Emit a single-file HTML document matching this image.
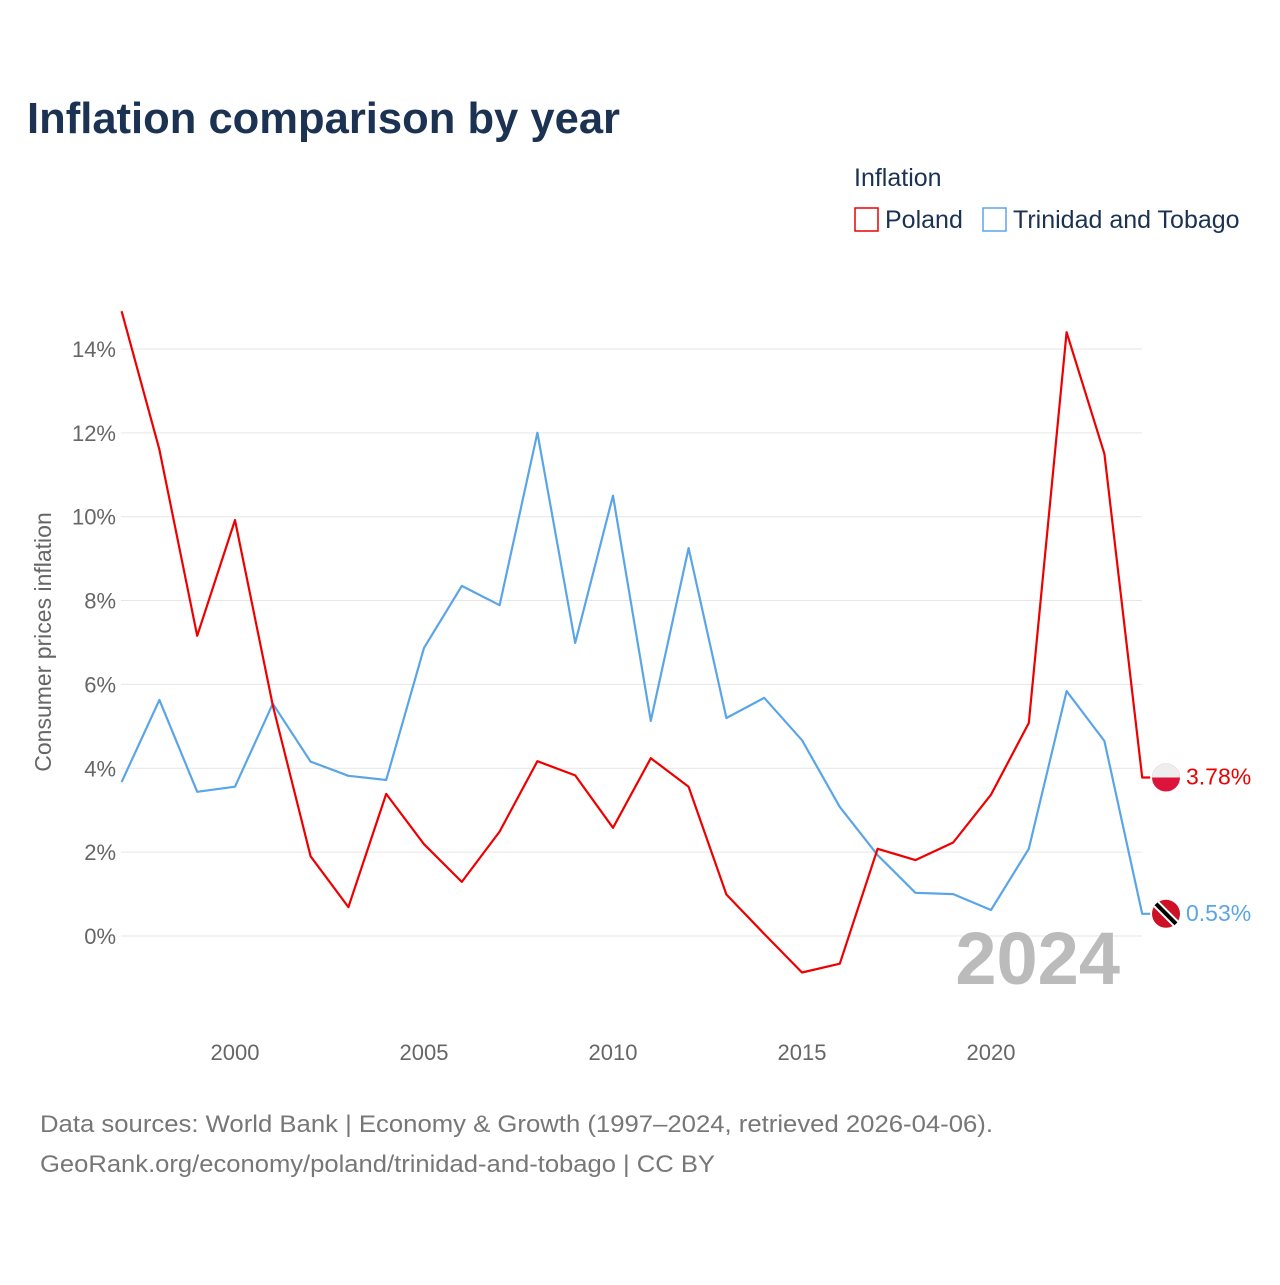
<!DOCTYPE html>
<html><head><meta charset="utf-8"><style>
body{margin:0;background:#fff;font-family:"Liberation Sans",sans-serif}
</style></head><body>
<svg width="1280" height="1280" xmlns="http://www.w3.org/2000/svg" style="font-family:'Liberation Sans',sans-serif">
<rect width="1280" height="1280" fill="#fff"/>
<text x="27" y="133" font-size="44" font-weight="bold" fill="#1b3252" textLength="593" lengthAdjust="spacingAndGlyphs">Inflation comparison by year</text>
<text x="854" y="186" font-size="25" fill="#1b3252">Inflation</text>
<g><rect x="855" y="208" width="23" height="23" fill="none" stroke="#ee0000" stroke-width="1.5"/><text x="885" y="228" font-size="25" fill="#1b3252">Poland</text></g>
<g><rect x="983" y="208" width="23" height="23" fill="none" stroke="#5aa5e8" stroke-width="1.5"/><text x="1013" y="228" font-size="25" fill="#1b3252">Trinidad and Tobago</text></g>
<g id="grid"></g>
<g id="yt"></g>
<g id="xt"></g>
<text transform="translate(51,642) rotate(-90)" text-anchor="middle" font-size="23" fill="#666">Consumer prices inflation</text>
<text x="1120" y="984" text-anchor="end" font-size="74" font-weight="bold" fill="#bbb">2024</text>
<g id="series"></g>
<text x="40" y="1132" font-size="24" fill="#777" textLength="953" lengthAdjust="spacingAndGlyphs">Data sources: World Bank | Economy &amp; Growth (1997–2024, retrieved 2026-04-06).</text>
<text x="40" y="1172" font-size="24" fill="#777" textLength="675" lengthAdjust="spacingAndGlyphs">GeoRank.org/economy/poland/trinidad-and-tobago | CC BY</text>
</svg>
<script>
const years=[1997,1998,1999,2000,2001,2002,2003,2004,2005,2006,2007,2008,2009,2010,2011,2012,2013,2014,2015,2016,2017,2018,2019,2020,2021,2022,2023,2024];
const poland=[14.9,11.6,7.16,9.92,5.5,1.9,0.69,3.39,2.19,1.29,2.49,4.17,3.83,2.58,4.24,3.56,0.99,0.05,-0.87,-0.66,2.08,1.81,2.23,3.37,5.08,14.4,11.5,3.78];
const tt=[3.67,5.63,3.44,3.56,5.54,4.16,3.82,3.72,6.87,8.35,7.89,12.0,6.99,10.5,5.13,9.25,5.2,5.68,4.67,3.08,1.93,1.03,1.0,0.62,2.08,5.84,4.65,0.53];
const yTicks=[0,2,4,6,8,10,12,14];
const xTicks=[2000,2005,2010,2015,2020];
const NS="http://www.w3.org/2000/svg";
const x=v=>235+(v-2000)*37.8;
const y=v=>936-v*41.93;
function mk(t,a,p){const e=document.createElementNS(NS,t);for(const k in a)e.setAttribute(k,a[k]);p.appendChild(e);return e;}
const grid=document.getElementById('grid'),yt=document.getElementById('yt'),xt=document.getElementById('xt'),ser=document.getElementById('series');
yTicks.forEach(v=>{
 const l=mk('line',{x1:121,x2:1142,y1:y(v),y2:y(v),stroke:'#e6e6e6','stroke-width':1},grid);
 
 
 const t=mk('text',{x:116,y:y(v)+8,'text-anchor':'end','font-size':22,fill:'#666'},yt);
 t.textContent=v+'%';
 
 
});
xTicks.forEach(v=>{
 const t=mk('text',{x:x(v),y:1060,'text-anchor':'middle','font-size':22,fill:'#666'},xt);
 t.textContent=v;
 
 
});
function line(vals,col,name,flag){
 let d=vals.map((v,i)=>(i?'L':'M')+x(years[i]).toFixed(1)+','+y(v).toFixed(1)).join(' ');
 const last=vals[vals.length-1];
 d+=' L'+(x(2024)+8)+','+y(last).toFixed(1);
 const p=mk('path',{d:d,fill:'none',stroke:col,'stroke-width':2.2,'stroke-linejoin':'round'},ser);
 
 
 const cx=1166,cy=y(last);
 const g=mk('g',{},ser);
 
 
 if(flag==='pl'){
  mk('circle',{cx:cx,cy:cy,r:14,fill:'#dc143c'},g);
  mk('path',{d:`M${cx-14},${cy} A14,14 0 0 1 ${cx+14},${cy} Z`,fill:'#eee'},g);
 }else{
  mk('circle',{cx:cx,cy:cy,r:14,fill:'#ce1126'},g);
  mk('line',{x1:cx-10,y1:cy-10,x2:cx+10,y2:cy+10,stroke:'#fff','stroke-width':8},g);
  mk('line',{x1:cx-10,y1:cy-10,x2:cx+10,y2:cy+10,stroke:'#000','stroke-width':4},g);
 }
 const t=mk('text',{x:1186,y:y(last)+7,'font-size':23,fill:col},ser);
 t.textContent=last.toFixed(2)+'%';
 
 
}
line(tt,'#5aa5e8','trinidad','tt');
line(poland,'#ee0000','poland','pl');
</script>
</body></html>
